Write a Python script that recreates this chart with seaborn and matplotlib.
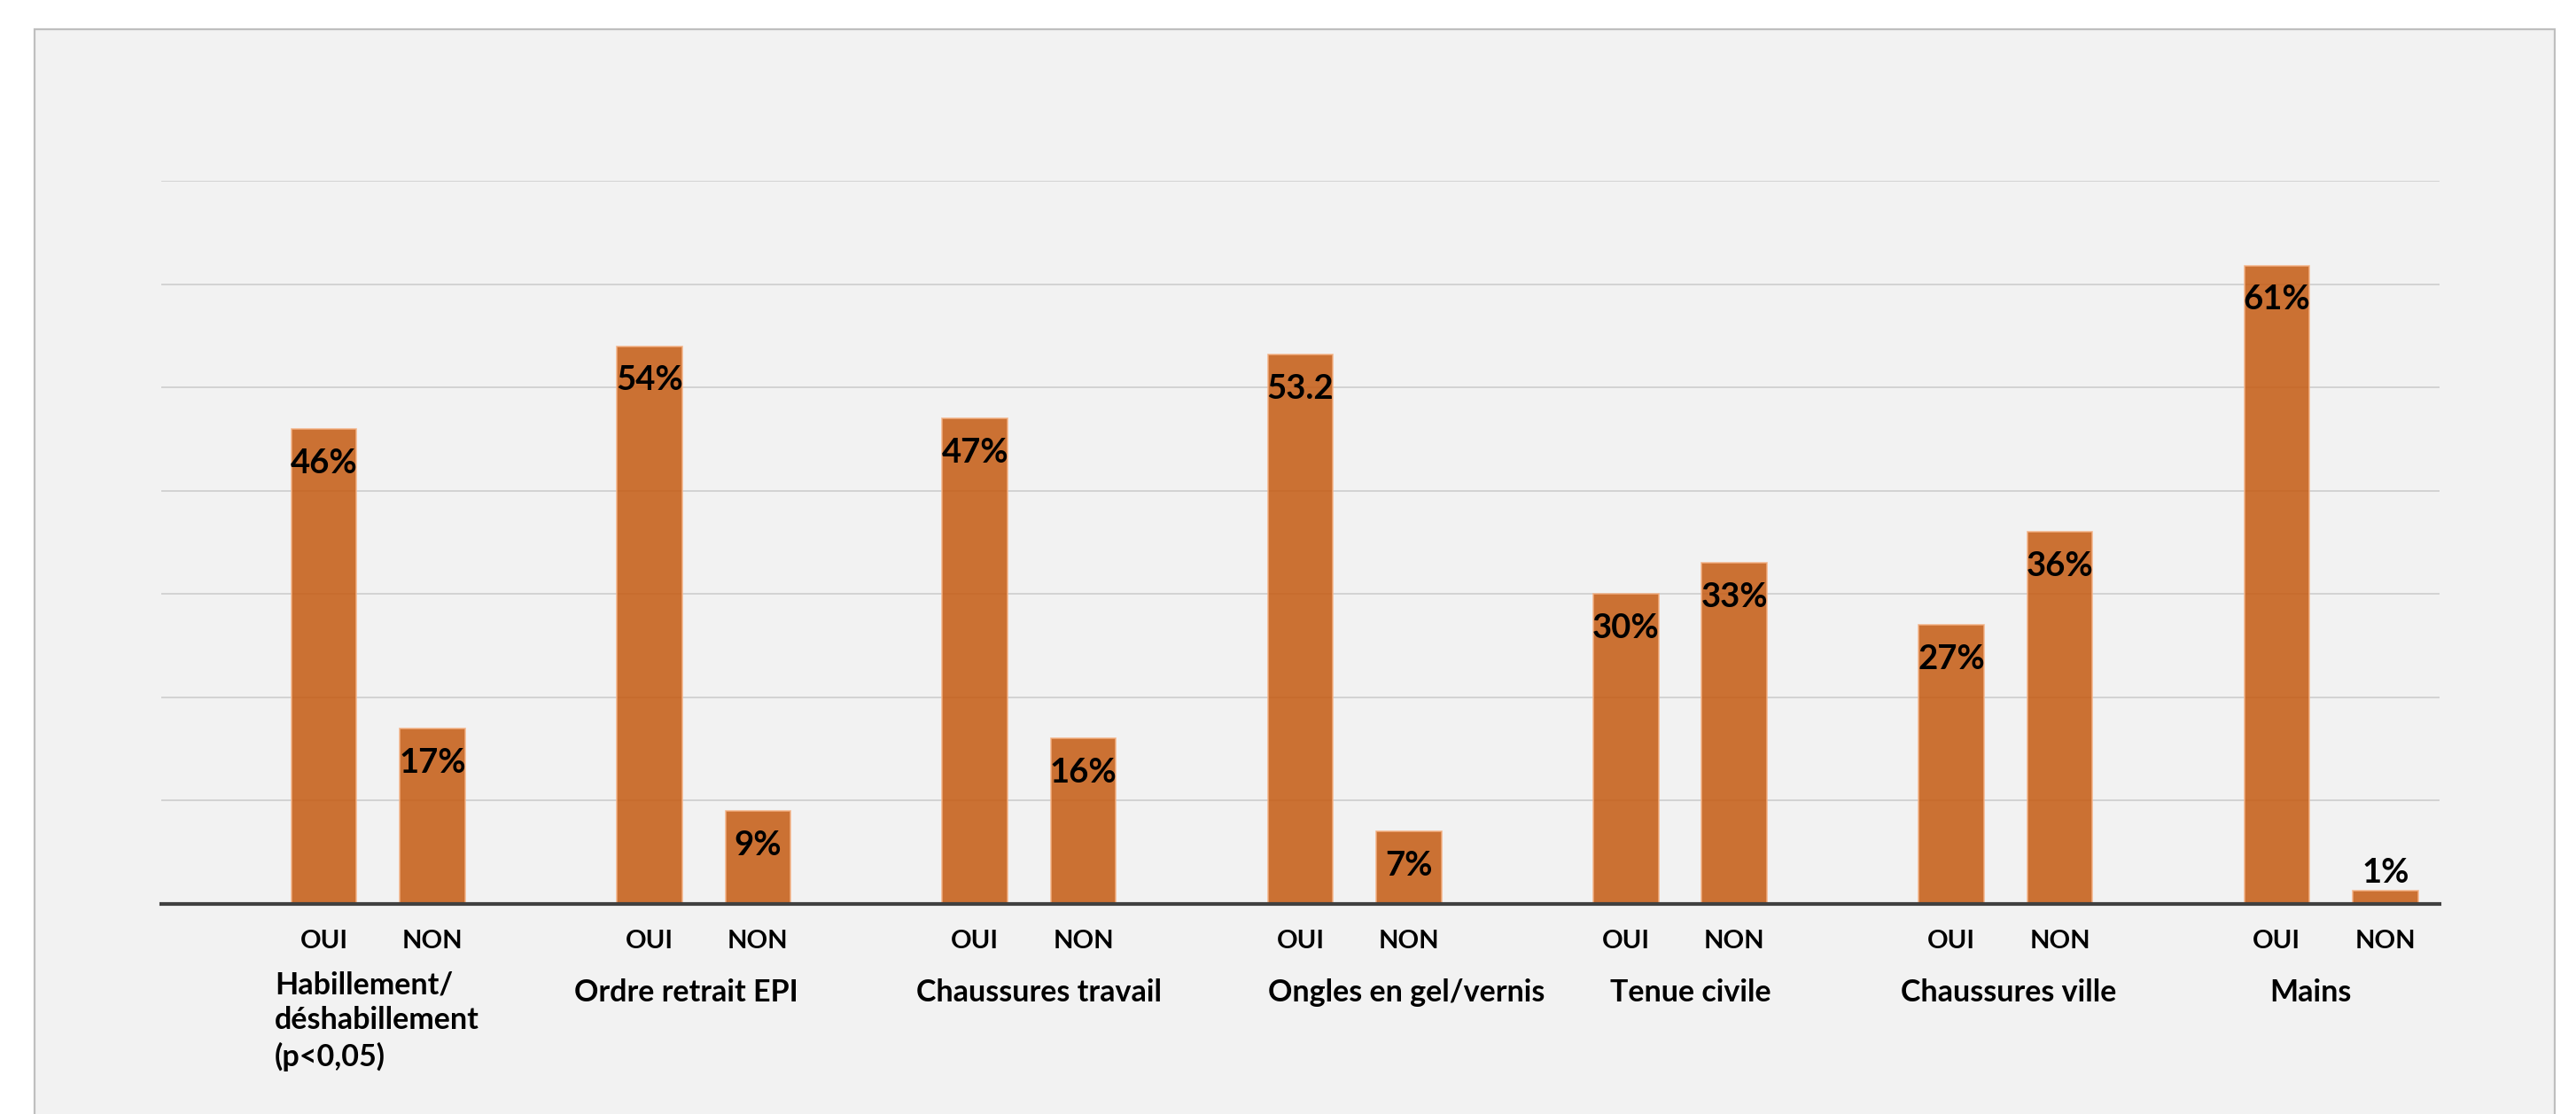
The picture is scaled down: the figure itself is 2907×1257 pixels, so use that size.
import matplotlib.pyplot as plt
import matplotlib.patches as mpatches
import seaborn as sns
import pandas as pd

# data
groups = ["Habillement/\ndéshabillement\n(p<0,05)", "Ordre retrait EPI", "Chaussures travail",
          "Ongles en gel/vernis", "Tenue civile", "Chaussures ville", "Mains"]
answers = ["OUI", "NON"]
oui_values = [46, 54, 47, 53.2, 30, 27, 61.8]
non_values = [17, 9, 16, 7, 33, 36, 1.3]
oui_labels = ["46%", "54%", "47%", "53.2", "30%", "27%", "61%"]
non_labels = ["17%", "9%", "16%", "7%", "33%", "36%", "1%"]

# layout of the hand-placed category captions (offset from group centre)
cat_offsets = [-0.151, 0.114, 0.198, 0.325, 0.199, 0.177, 0.105]

sns.set_theme(style="white")
plt.rcParams['font.family'] = ['Lato', 'DejaVu Sans']
plt.rcParams['text.color'] = 'black'

df = pd.DataFrame({
    "groupe": groups * 2,
    "reponse": [answers[0]] * len(groups) + [answers[1]] * len(groups),
    "pct": oui_values + non_values,
})

bar_color = "#C55A11"
W, H = 2907, 1257
fig = plt.figure(figsize=(W / 100, H / 100), dpi=100)
fig.patch.set_facecolor("white")

# grey slide panel behind the chart
panel = mpatches.Rectangle((39 / W, -0.02), (2883 - 39) / W, 0.02 + (H - 33) / H,
                           transform=fig.transFigure, facecolor="#F2F2F2",
                           edgecolor="#BFBFBF", linewidth=1.6, zorder=-5)
fig.patches.append(panel)

ax = fig.add_axes([182 / W, (H - 1020) / H, (2753 - 182) / W, (1020 - 204) / H])
ax.set_zorder(2)
ax.patch.set_alpha(0)

# empty first hue level keeps the OUI bar on the group centre, as in the original
sns.barplot(data=df, x="groupe", y="pct", hue="reponse", order=groups,
            hue_order=[""] + answers,
            palette={"": bar_color, "OUI": bar_color, "NON": bar_color},
            saturation=1, width=1.0, gap=0.4, alpha=0.85,
            edgecolor="#F4B183", linewidth=1.2,
            errorbar=None, legend=False, ax=ax, zorder=2)

ax.set_xlim(-0.5, len(groups) - 0.5)
ax.set_ylim(0, 70)
ax.set_yticks(range(0, 71, 10))
ax.tick_params(left=False, bottom=False, labelleft=False, labelbottom=False)
ax.set_xlabel("")
ax.set_ylabel("")
ax.set_axisbelow(True)
ax.yaxis.grid(True, color="#D0D0D0", linewidth=1.3)
ax.xaxis.grid(False)
for side in ["left", "top", "right"]:
    ax.spines[side].set_visible(False)
ax.spines["bottom"].set_color("#404040")
ax.spines["bottom"].set_linewidth(3)
ax.spines["bottom"].set_zorder(3)

# value labels + OUI/NON under each bar
bar_groups = [c for c in ax.containers if len(c) > 0]
for cont, labels, ans in zip(bar_groups, [oui_labels, non_labels], answers):
    for bar, lab in zip(cont, labels):
        xc = bar.get_x() + bar.get_width() / 2
        h = bar.get_height()
        off = -28 if h > 5 else 14
        ax.annotate(lab, (xc, h), xytext=(0, off), textcoords="offset points",
                    ha="center", va="center", fontsize=27.5, fontweight="bold",
                    color="black", zorder=4)
        ax.text(xc, -0.0515, ans, transform=ax.get_xaxis_transform(),
                ha="center", va="center", fontsize=21, fontweight="bold")

# category captions
for i, (name, dx) in enumerate(zip(groups, cat_offsets)):
    multi = "\n" in name
    ax.text(ax.get_xticks()[i] + dx, -0.162 if multi else -0.123, name,
            transform=ax.get_xaxis_transform(),
            ha="left" if multi else "center", va="center", multialignment="left",
            fontsize=24.5, fontweight="bold", linespacing=1.3)

fig.savefig("out.png", dpi=100)
